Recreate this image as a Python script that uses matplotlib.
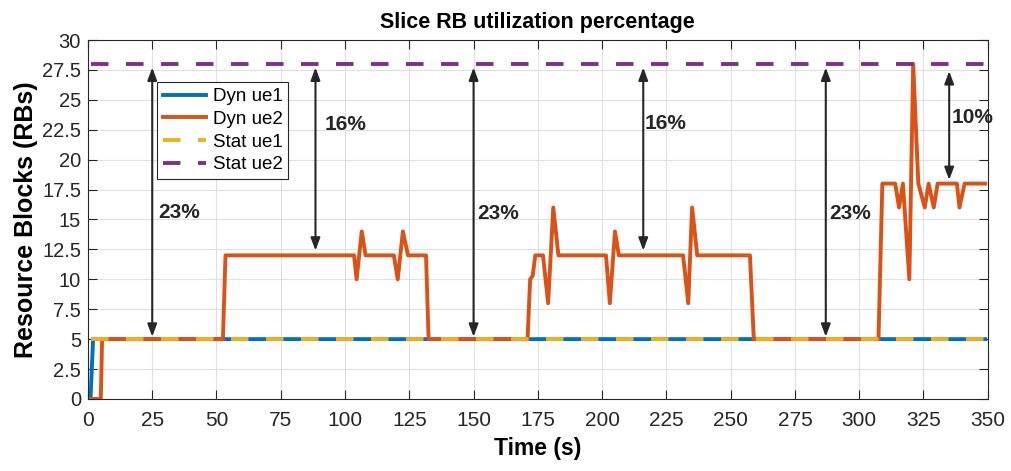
import numpy as np
import matplotlib.pyplot as plt

plt.rcParams['font.family'] = ['Liberation Sans', 'DejaVu Sans']

# data
dyn_ue1_t = [1, 2, 349]
dyn_ue1_rb = [0, 5, 5]

dyn_ue2_t = [1, 5, 5.5, 52.5, 53.5, 103.5, 104.5, 106.5, 108, 119, 120.5, 122.5, 124.5,
             131.5, 132.5, 171, 172, 173, 174, 177, 179, 181, 183, 201.5, 203, 205,
             206.5, 231.5, 233.5, 235, 237, 257.5, 259, 307.5, 309, 314, 315.5, 317,
             319.5, 321, 323, 325.5, 327, 329, 330.5, 338, 339, 341, 349]
dyn_ue2_rb = [0, 0, 5, 5, 12, 12, 10, 14, 12, 12, 10, 14, 12,
              12, 5, 5, 10, 10.3, 12, 12, 8, 16, 12, 12, 8, 14,
              12, 12, 8, 16, 12, 12, 5, 5, 18, 18, 16, 18,
              10, 28, 18, 16, 18, 16, 18, 18, 16, 18, 18]

stat_t = [1, 349]
stat_ue1_rb = [5, 5]
stat_ue2_rb = [28, 28]

# double arrows: x, bottom, top, label, label x, label y
arrow_x = [25, 88.5, 150, 216, 287, 335]
arrow_lo = [5.2, 12.4, 5.2, 12.4, 5.2, 18.3]
arrow_hi = [27.7, 27.7, 27.7, 27.7, 27.7, 27.4]
arrow_txt = ['23%', '16%', '23%', '16%', '23%', '10%']
txt_x = [27.2, 92, 151.5, 216.5, 288.5, 336]
txt_y = [15.6, 22.9, 15.5, 23.0, 15.5, 23.5]

blue = '#0072BD'
orange = '#D95319'
yellow = '#EDB120'
purple = '#7E2F8E'
dark = '#262626'

fig = plt.figure(figsize=(10.11, 4.71), dpi=100)
ax = fig.add_axes([0.087, 0.153, 0.890, 0.762])

lw = 2.8
ax.plot(dyn_ue1_t, dyn_ue1_rb, color=blue, lw=lw, label='Dyn ue1')
ax.plot(dyn_ue2_t, dyn_ue2_rb, color=orange, lw=lw, label='Dyn ue2')
ax.plot(stat_t, stat_ue1_rb, color=yellow, lw=lw, dashes=(4.5, 4.5), label='Stat ue1')
ax.plot(stat_t, stat_ue2_rb, color=purple, lw=lw, dashes=(4.5, 4.5), label='Stat ue2')

for x, lo, hi, s, tx, ty in zip(arrow_x, arrow_lo, arrow_hi, arrow_txt, txt_x, txt_y):
    ax.annotate('', xy=(x, hi), xytext=(x, lo),
                arrowprops=dict(arrowstyle='<|-|>,head_length=0.75,head_width=0.28',
                                color=dark, lw=1.5, shrinkA=0, shrinkB=0))
    ax.text(tx, ty, s, fontsize=15, fontweight='bold', color=dark,
            ha='left', va='center')

ax.set_xlim(0, 350)
ax.set_ylim(0, 30)
ax.set_xticks(np.arange(0, 351, 25))
ax.set_yticks(np.arange(0, 30.1, 2.5))
ax.set_yticklabels(['0', '2.5', '5', '7.5', '10', '12.5', '15', '17.5', '20',
                    '22.5', '25', '27.5', '30'])
ax.grid(True, color='#e0e0e0', lw=0.8)
ax.set_axisbelow(True)
ax.tick_params(direction='in', top=True, right=True, colors=dark, length=6.5, width=0.8)
ax.tick_params(axis='x', labelsize=15, pad=9)
ax.tick_params(axis='y', labelsize=14.5, pad=5)
for sp in ax.spines.values():
    sp.set_color(dark)
    sp.set_linewidth(0.8)

ax.set_title('Slice RB utilization percentage', fontsize=15.5, fontweight='bold', pad=9)
ax.set_xlabel('Time (s)', fontsize=16.5, fontweight='bold', labelpad=5)
ax.set_ylabel('Resource Blocks (RBs)', fontsize=18, fontweight='bold', labelpad=3)

leg = ax.legend(loc='upper left', bbox_to_anchor=(0.077, 0.882), fontsize=13.5,
                fancybox=False, framealpha=1, edgecolor=dark, borderpad=0.3,
                labelspacing=0.3, handlelength=2.3, handletextpad=0.35, borderaxespad=0)
leg.get_frame().set_linewidth(0.8)

fig.savefig('out.png', dpi=100)
